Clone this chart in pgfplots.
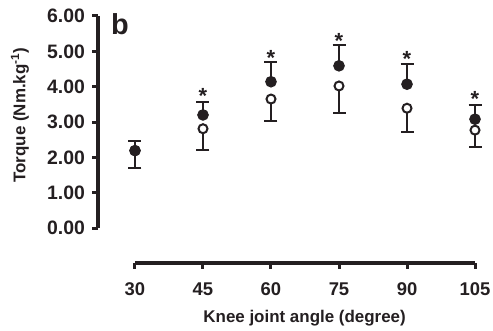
\documentclass[border=0pt]{standalone}
\usepackage{fontspec}
\setmainfont{Liberation Sans}
\usepackage{pgfplots}
\pgfplotsset{compat=1.18}
\definecolor{ink}{rgb}{0.14,0.12,0.13}
\begin{document}
\begin{tikzpicture}
\begin{axis}[
  name=ax,
  scale only axis, width=377bp, height=247bp,
  xmin=21.84, xmax=105, ymin=-0.99, ymax=6,
  enlargelimits=false,
  axis x line*=bottom, axis y line*=left,
  separate axis lines,
  x axis line style={-, line width=3.5bp, shorten <=37bp, draw=ink},
  y axis line style={-, line width=3.5bp, shorten <=35bp, draw=ink},
  xtick={30,45,60,75,90,105},
  ytick={0,1,2,3,4,5,6},
  yticklabels={0.00,1.00,2.00,3.00,4.00,5.00,6.00},
  /pgf/number format/assume math mode=true,
  tick align=outside, major tick length=5.5bp,
  tick style={line width=3bp, draw=ink},
  x tick label style={font=\fontsize{18.5}{20}\selectfont\bfseries, text=ink, yshift=-11bp},
  y tick label style={font=\fontsize{19.5}{20}\selectfont\bfseries, text=ink, xshift=-4bp},
  xlabel={Knee joint angle (degree)},
  ylabel={Torque (Nm.kg\textsuperscript{-1})},
  every axis x label/.style={at={(rel axis cs:0.548,-0.239)}, anchor=base, font=\fontsize{17}{20}\selectfont\bfseries, text=ink},
  every axis y label/.style={at={(rel axis cs:-0.207,0.599)}, anchor=center, rotate=90, font=\fontsize{17}{20}\selectfont\bfseries, text=ink},
  clip=false,
]
% open circles (lower error bars)
\addplot[only marks, mark=*, mark size=4.5bp,
  mark options={draw=ink, fill=white, line width=2bp},
  error bars/.cd, y dir=minus, y explicit, error mark=-,
  error bar style={line width=2bp, draw=ink},
  error mark options={rotate=90, line width=2bp, mark size=6.5bp, draw=ink}]
  coordinates {
  (30,2.19) +- (0,0.48)
  (45,2.81) +- (0,0.60)
  (60,3.65) +- (0,0.61)
  (75,4.02) +- (0,0.77)
  (90,3.39) +- (0,0.66)
  (105,2.77) +- (0,0.47)
  };
% filled circles (upper error bars)
\addplot[only marks, mark=*, mark size=5.3bp,
  mark options={draw=ink, fill=ink, line width=1bp},
  error bars/.cd, y dir=plus, y explicit, error mark=-,
  error bar style={line width=2bp, draw=ink},
  error mark options={rotate=90, line width=2bp, mark size=6.5bp, draw=ink}]
  coordinates {
  (30,2.19) +- (0,0.26)
  (45,3.20) +- (0,0.36)
  (60,4.14) +- (0,0.57)
  (75,4.59) +- (0,0.58)
  (90,4.07) +- (0,0.56)
  (105,3.08) +- (0,0.40)
  };
% significance stars
\addplot[draw=none, mark=none, nodes near coords={*},
  nodes near coords style={anchor=center, font=\fontsize{22}{24}\selectfont\bfseries, text=ink}]
  coordinates {
  (45,3.73) (60,4.82) (75,5.29) (90,4.78) (105,3.65)
  };
\node[anchor=base west, inner sep=0pt, font=\fontsize{29}{30}\selectfont\bfseries, text=ink]
  at (rel axis cs:0.0345,0.927) {b};
\end{axis}
\pgfresetboundingbox
\path[use as bounding box] (ax.south west) ++(-98bp,-68bp) rectangle ([shift={(18bp,16bp)}]ax.north east);
\end{tikzpicture}
\end{document}
